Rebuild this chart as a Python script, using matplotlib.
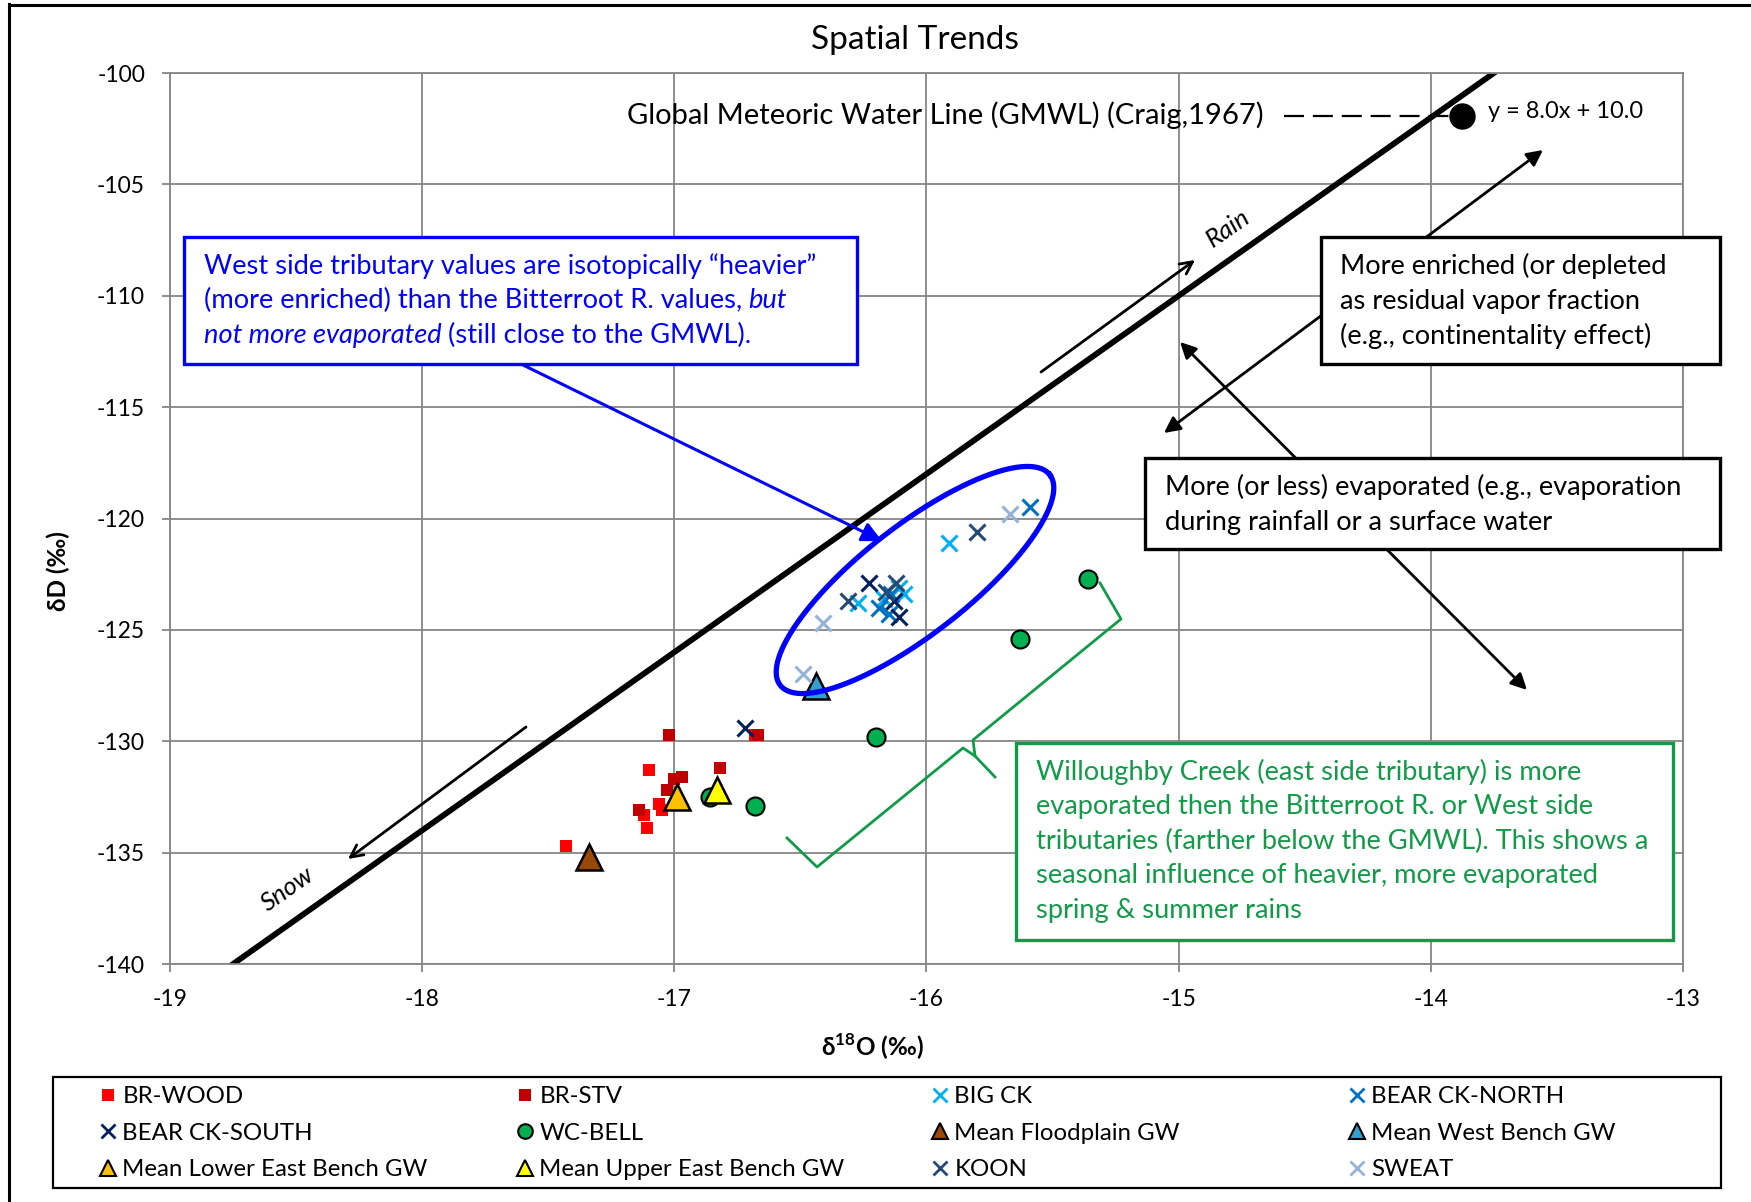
import numpy as np
import matplotlib
matplotlib.use('Agg')
import matplotlib.pyplot as plt
from matplotlib.lines import Line2D
from matplotlib.patches import Rectangle, FancyArrowPatch

plt.rcParams['font.family'] = ['Lato', 'DejaVu Sans']
plt.rcParams['axes.unicode_minus'] = False
plt.rcParams['mathtext.fontset'] = 'custom'
plt.rcParams['mathtext.rm'] = 'Lato'
plt.rcParams['mathtext.bf'] = 'Lato:bold'

# ---------------- data ----------------
br_wood_x = [-17.10, -17.43, -17.12, -17.11, -17.06, -17.05, -16.68]
br_wood_y = [-131.3, -134.7, -133.3, -133.9, -132.8, -133.1, -129.7]
br_stv_x = [-17.02, -17.14, -16.82, -16.97, -17.00, -17.03, -16.67]
br_stv_y = [-129.7, -133.1, -131.2, -131.6, -131.7, -132.2, -129.7]
big_ck_x = [-15.91, -16.27, -16.09, -16.11, -16.17]
big_ck_y = [-121.1, -123.8, -123.4, -123.1, -123.6]
bear_n_x = [-15.59, -16.19, -16.15, -16.14]
bear_n_y = [-119.5, -124.0, -124.3, -123.4]
bear_s_x = [-16.23, -16.11, -16.13, -16.72]
bear_s_y = [-122.9, -124.4, -123.7, -129.4]
wc_bell_x = [-16.86, -16.68, -15.63, -16.20, -15.36]
wc_bell_y = [-132.5, -132.9, -125.4, -129.8, -122.7]
floodplain_x = [-17.34]
floodplain_y = [-135.2]
west_bench_x = [-16.44]
west_bench_y = [-127.5]
lower_east_x = [-16.99]
lower_east_y = [-132.5]
upper_east_x = [-16.83]
upper_east_y = [-132.2]
koon_x = [-15.80, -16.31, -16.12, -16.16]
koon_y = [-120.6, -123.7, -122.9, -123.3]
sweat_x = [-15.67, -16.41, -16.49]
sweat_y = [-119.8, -124.7, -127.0]

gmwl_slope = 8.0
gmwl_intercept = 10.0

x_ticks = [-19, -18, -17, -16, -15, -14, -13]
y_ticks = [-140, -135, -130, -125, -120, -115, -110, -105, -100]

# ---------------- figure ----------------
W, H = 1751, 1202
fig = plt.figure(figsize=(W / 100, H / 100), dpi=100)
ax = fig.add_axes([170 / W, 1 - 964 / H, (1683 - 170) / W, (964 - 73) / H])

GRID = '#868686'
ax.set_xlim(-19, -13)
ax.set_ylim(-140, -100)
ax.set_xticks(x_ticks)
ax.set_yticks(y_ticks)
ax.set_xticklabels([str(v) for v in x_ticks])
ax.set_yticklabels([str(v) for v in y_ticks])
ax.grid(True, color=GRID, lw=1.3)
ax.set_axisbelow(True)
for s in ax.spines.values():
    s.set_color(GRID)
    s.set_linewidth(1.3)
ax.tick_params(axis='both', direction='out', length=6, width=1.3, color=GRID,
               labelsize=16.5, labelcolor='black')
ax.tick_params(axis='y', pad=12)
ax.tick_params(axis='x', pad=12)

# GMWL
ax.axline((0, gmwl_intercept), slope=gmwl_slope, color='black', lw=4.2, zorder=2)

series = [
    ('BR-WOOD', br_wood_x, br_wood_y, dict(marker='s', color='#FF0000', ms=9, mew=0)),
    ('BR-STV', br_stv_x, br_stv_y, dict(marker='s', color='#C00000', ms=9, mew=0)),
    ('BIG CK', big_ck_x, big_ck_y, dict(marker='x', color='#00B0F0', ms=12, mew=2.2)),
    ('BEAR CK-NORTH', bear_n_x, bear_n_y, dict(marker='x', color='#0070C0', ms=12, mew=2.2)),
    ('BEAR CK-SOUTH', bear_s_x, bear_s_y, dict(marker='x', color='#002060', ms=12, mew=2.2)),
    ('WC-BELL', wc_bell_x, wc_bell_y, dict(marker='o', mfc='#00B050', mec='black', ms=13, mew=1.5)),
    ('Mean Floodplain GW', floodplain_x, floodplain_y, dict(marker='^', mfc='#984807', mec='black', ms=19, mew=1.8)),
    ('Mean West Bench GW', west_bench_x, west_bench_y, dict(marker='^', mfc='#31A0CC', mec='black', ms=19, mew=1.8)),
    ('Mean Lower East Bench GW', lower_east_x, lower_east_y, dict(marker='^', mfc='#FFC000', mec='black', ms=19, mew=1.8)),
    ('Mean Upper East Bench GW', upper_east_x, upper_east_y, dict(marker='^', mfc='#FFFF00', mec='black', ms=19, mew=1.8)),
    ('KOON', koon_x, koon_y, dict(marker='x', color='#254A78', ms=12, mew=2.2)),
    ('SWEAT', sweat_x, sweat_y, dict(marker='x', color='#95B3D7', ms=12, mew=2.2)),
]
handles = {}
for name, xs, ys, st in series:
    ax.plot(xs, ys, ls='none', zorder=3, label=name, **st)
    leg_st = dict(st)
    if leg_st['marker'] == 's':
        leg_st['ms'] = 8
    elif leg_st['marker'] == 'x':
        leg_st['ms'] = 9.5
        leg_st['mew'] = 2.0
    elif leg_st['marker'] == 'o':
        leg_st['ms'] = 10.5
    else:
        leg_st['ms'] = 12
        leg_st['mew'] = 1.5
    handles[name] = Line2D([], [], ls='none', **leg_st)

# ---------------- helpers in image pixels ----------------
def P(x, y):
    return (x / W, 1 - y / H)

def fline(xs, ys, **kw):
    fx = [x / W for x in xs]
    fy = [1 - y / H for y in ys]
    ln = Line2D(fx, fy, transform=fig.transFigure, **kw)
    fig.add_artist(ln)
    return ln

def fbox(x0, y0, x1, y1, ec, lw=2.2, z=6):
    r = Rectangle(P(x0, y1), (x1 - x0) / W, (y1 - y0) / H, transform=fig.transFigure,
                  fc='white', ec=ec, lw=lw, zorder=z)
    fig.add_artist(r)

def farrow(a, b, style, lw=1.8, color='black', ms=20, z=5):
    ar = FancyArrowPatch(P(*a), P(*b), transform=fig.transFigure, arrowstyle=style,
                         mutation_scale=ms, lw=lw, color=color, zorder=z,
                         shrinkA=0, shrinkB=0)
    fig.add_artist(ar)

renderer = fig.canvas.get_renderer()

def seg_line(x, y, segs, size, color, z=7):
    for s, style in segs:
        if s == ' ':
            x += size * 1.389 * 0.22
            continue
        t = fig.text(x / W, 1 - y / H, s, fontsize=size, color=color, style=style,
                     ha='left', va='center', zorder=z)
        bb = t.get_window_extent(renderer=renderer)
        x += bb.width

# outer border (top and left)
fline([8.5, 8.5], [4, H], color='black', lw=2.2)
fline([8.5, W], [5, 5], color='black', lw=2.2)

# title and axis labels
fig.text(915 / W, 1 - 40 / H, 'Spatial Trends', fontsize=24, ha='center', va='center')
fig.text(872 / W, 1 - 1047 / H, r'δ$^{\mathbf{18}}$O (‰)', fontsize=17.5, fontweight='bold',
         ha='center', va='center')
fig.text(58 / W, 1 - 571 / H, 'δD (‰)', fontsize=17.5, fontweight='bold', rotation=90,
         ha='center', va='center')

# GMWL label, dashed leader, dot, equation
fig.text(1264 / W, 1 - 115 / H, 'Global Meteoric Water Line (GMWL) (Craig,1967)',
         fontsize=21, ha='right', va='center')
fline([1284, 1450], [116, 116], color='black', lw=1.6, ls=(0, (9, 4)))
fline([1461.8], [116.1], marker='o', color='black', ms=18, ls='none')
fig.text(1488 / W, 1 - 112 / H, 'y = 8.0x + 10.0', fontsize=17, ha='left', va='center')

# Rain / Snow arrows
farrow((1041, 372), (1195, 260), '->', lw=2.0, ms=22)
fig.text(1228 / W, 1 - 228 / H, 'Rain', fontsize=18.5, style='italic', rotation=35,
         ha='center', va='center')
farrow((526, 727), (348, 859), '->', lw=2.0, ms=22)
fig.text(288 / W, 1 - 889 / H, 'Snow', fontsize=18.5, style='italic', rotation=35,
         ha='center', va='center')

# double arrows behind boxes
farrow((1164, 433), (1543, 150), '<|-|>', lw=2.0, ms=24)
farrow((1180, 342), (1527, 690), '<|-|>', lw=2.0, ms=24)

BOX_FS = 19.6
# black boxes
fbox(1321, 237, 1720, 364, 'black', lw=2.4)
for i, line in enumerate(['More enriched (or depleted', 'as residual vapor fraction',
                          '(e.g., continentality effect)']):
    seg_line(1340, 266 + i * 35, [(line, 'normal')], BOX_FS, 'black')
fbox(1145, 458, 1720, 549, 'black', lw=2.4)
for i, line in enumerate(['More (or less) evaporated (e.g., evaporation',
                          'during rainfall or a surface water']):
    seg_line(1165, 487 + i * 35, [(line, 'normal')], BOX_FS, 'black')

# blue box, arrow and ellipse
BLUE = '#0000FF'
fbox(184, 237, 857, 364, BLUE, lw=2.4)
seg_line(204, 266, [('West side tributary values are isotopically “heavier”', 'normal')], BOX_FS, BLUE)
seg_line(204, 300.5, [('(more enriched) than the Bitterroot R. values,', 'normal'), (' ', None),
                      ('but', 'italic')], BOX_FS, BLUE)
seg_line(204, 335, [('not more evaporated', 'italic'), (' ', None),
                    ('(still close to the GMWL).', 'normal')], BOX_FS, BLUE)
farrow((521, 364), (882, 541), '-|>', lw=2.2, color=BLUE, ms=30)

t = np.linspace(0, 2 * np.pi, 400)
cx, cy, ea, eb, th = 915.0, 580.0, 171.0, 54.0, np.deg2rad(38.0)
ex = cx + ea * np.cos(t) * np.cos(th) + eb * np.sin(t) * np.sin(th)
ey = cy - ea * np.cos(t) * np.sin(th) + eb * np.sin(t) * np.cos(th)
fline(list(ex), list(ey), color=BLUE, lw=3.8, zorder=5)

# green box and brace
GREEN = '#119A48'
fbox(1016, 743, 1673, 940, GREEN, lw=2.4)
glines = ['Willoughby Creek (east side tributary) is more',
          'evaporated then the Bitterroot R. or West side',
          'tributaries (farther below the GMWL). This shows a',
          'seasonal influence of heavier, more evaporated',
          'spring & summer rains']
for i, line in enumerate(glines):
    seg_line(1036, 772 + i * 34.6, [(line, 'normal')], BOX_FS, GREEN)
fline([1100, 1121, 973, 975, 995], [583, 619, 740, 756, 777], color=GREEN, lw=2.0, zorder=5)
fline([975, 963, 817, 787], [756, 748, 867, 838], color=GREEN, lw=2.0, zorder=5)

# legend (4 columns, row-major order as in reference)
cols = [['BR-WOOD', 'BEAR CK-SOUTH', 'Mean Lower East Bench GW'],
        ['BR-STV', 'WC-BELL', 'Mean Upper East Bench GW'],
        ['BIG CK', 'Mean Floodplain GW', 'KOON'],
        ['BEAR CK-NORTH', 'Mean West Bench GW', 'SWEAT']]
col_x = [108, 525, 940, 1357]
for cx_, names in zip(col_x, cols):
    fig.legend([handles[n] for n in names], names, loc='upper left',
               bbox_to_anchor=P(cx_ - 12, 1086), frameon=False, fontsize=17.3,
               handlelength=1.0, handletextpad=0.1, borderpad=0.0, borderaxespad=0.0,
               labelspacing=0.65)
fbox(53, 1077, 1721, 1188, 'black', lw=1.6, z=0)

fig.savefig('out.png', dpi=100)
